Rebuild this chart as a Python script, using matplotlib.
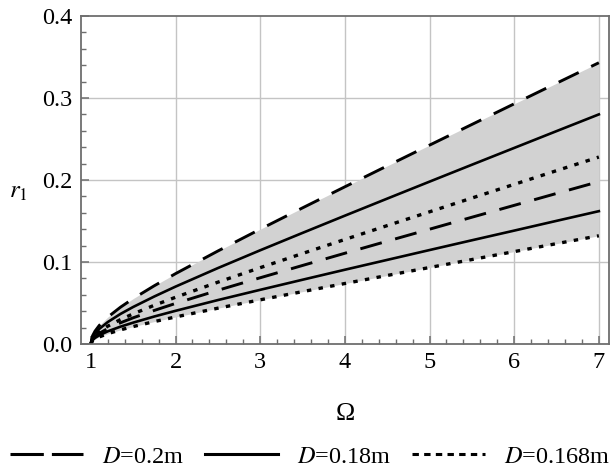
import numpy as np
import matplotlib
matplotlib.use('Agg')
import matplotlib.pyplot as plt
from matplotlib.lines import Line2D
from matplotlib.ticker import MultipleLocator, FixedLocator

plt.rcParams['font.family'] = ['Liberation Serif', 'DejaVu Serif']
plt.rcParams['mathtext.fontset'] = 'stix'
plt.rcParams['lines.scale_dashes'] = False

# Omega sample points and r1 values
omega = [1.0, 1.02, 1.05, 1.1, 1.2, 1.35, 1.5, 1.75, 2.0, 2.5, 3.0, 3.5, 4.0, 4.5, 5.0, 5.5, 6.0, 6.5, 7.0]

r_d20_hi = [0, 0.010, 0.0158, 0.0227, 0.0328, 0.0449, 0.0554, 0.0711, 0.0858, 0.1134, 0.140, 0.166,
            0.1917, 0.2172, 0.2425, 0.2677, 0.2929, 0.318, 0.343]
r_d18_hi = [0, 0.0081, 0.0129, 0.0185, 0.0268, 0.0367, 0.0452, 0.058, 0.070, 0.0926, 0.1143, 0.1355,
            0.1565, 0.1773, 0.198, 0.2186, 0.2391, 0.2596, 0.280]
r_d168_hi = [0, 0.0066, 0.0105, 0.0151, 0.0218, 0.0298, 0.0368, 0.0473, 0.057, 0.0754, 0.0931, 0.1104,
             0.1275, 0.1444, 0.1612, 0.178, 0.1947, 0.2114, 0.228]
r_d20_lo = [0, 0.0057, 0.0091, 0.0131, 0.0189, 0.0259, 0.032, 0.041, 0.0495, 0.0655, 0.0808, 0.0958,
            0.1107, 0.1254, 0.140, 0.1546, 0.1691, 0.1836, 0.198]
r_d18_lo = [0, 0.0047, 0.0075, 0.0107, 0.0155, 0.0212, 0.0261, 0.0336, 0.0405, 0.0536, 0.0661, 0.0784,
            0.0906, 0.1026, 0.1146, 0.1265, 0.1383, 0.1502, 0.162]
r_d168_lo = [0, 0.0038, 0.0061, 0.0087, 0.0126, 0.0173, 0.0213, 0.0274, 0.033, 0.0437, 0.0539, 0.0639,
             0.0738, 0.0836, 0.0933, 0.103, 0.1127, 0.1224, 0.132]

labels = ['$D$=0.2m', '$D$=0.18m', '$D$=0.168m']

dash_plot = (0, (16, 10))
dot_plot = (0, (3.2, 5.3))
gray_axis = '#6e6e6e'
fs = 17.5

fig = plt.figure(figsize=(6.13, 4.70), dpi=100)
ax = fig.add_axes([0.1316, 0.268, 0.8619, 0.698])

# shaded band between outermost curves
ax.fill_between(omega, r_d168_lo, r_d20_hi, color='#d2d2d2', lw=0, zorder=1)

ax.plot(omega, r_d20_hi, color='black', lw=2.1, ls=dash_plot, dash_capstyle='butt', zorder=3)
ax.plot(omega, r_d18_hi, color='black', lw=1.9, zorder=3)
ax.plot(omega, r_d168_hi, color='black', lw=2.4, ls=dot_plot, dash_capstyle='butt', zorder=3)
ax.plot(omega, r_d20_lo, color='black', lw=2.1, ls=dash_plot, dash_capstyle='butt', zorder=3)
ax.plot(omega, r_d18_lo, color='black', lw=1.9, zorder=3)
ax.plot(omega, r_d168_lo, color='black', lw=2.4, ls=dot_plot, dash_capstyle='butt', zorder=3)

ax.set_xlim(0.88, 7.12)
ax.set_ylim(0, 0.4)

ax.xaxis.set_major_locator(FixedLocator([1, 2, 3, 4, 5, 6, 7]))
ax.xaxis.set_minor_locator(FixedLocator([1 + 0.2 * i for i in range(31) if i % 5 != 0]))
ax.yaxis.set_major_locator(MultipleLocator(0.1))
ax.yaxis.set_minor_locator(MultipleLocator(0.02))
ax.yaxis.set_major_formatter(matplotlib.ticker.FormatStrFormatter('%.1f'))

# grid lines (not at Omega = 1)
for gx in [2, 3, 4, 5, 6, 7]:
    ax.axvline(gx, color='#c4c4c4', lw=1.0, zorder=0.5)
for gy in [0.1, 0.2, 0.3]:
    ax.axhline(gy, color='#c4c4c4', lw=1.0, zorder=0.5)

for s in ax.spines.values():
    s.set_color(gray_axis)
    s.set_linewidth(1.3)
    s.set_zorder(4)

ax.tick_params(which='both', direction='in', color=gray_axis, top=False, right=False,
               labelsize=fs, labelcolor='black')
ax.tick_params(which='major', length=6, width=1.1, pad=6)
ax.tick_params(which='minor', length=3.5, width=1.0)

ax.set_xlabel('Ω', fontsize=fs + 1)
ax.xaxis.set_label_coords(0.5, -0.18)
ax.set_ylabel('$r_1$', fontsize=fs + 0.5, rotation=0, ha='center', va='center')
ax.yaxis.set_label_coords(-0.118, 0.463)

handles = [
    Line2D([], [], color='black', lw=2.2, ls=(0, (24, 5.8)), dash_capstyle='butt'),
    Line2D([], [], color='black', lw=2.2),
    Line2D([], [], color='black', lw=2.2, ls=(0, (4.6, 3.8)), dash_capstyle='butt'),
]
fig.legend(handles, labels, loc='center', bbox_to_anchor=(0.506, 0.028), ncol=3,
           frameon=False, fontsize=fs, handlelength=3.0, handletextpad=0.8,
           columnspacing=0.85, borderaxespad=0, borderpad=0)

fig.savefig('out.png', dpi=100)
